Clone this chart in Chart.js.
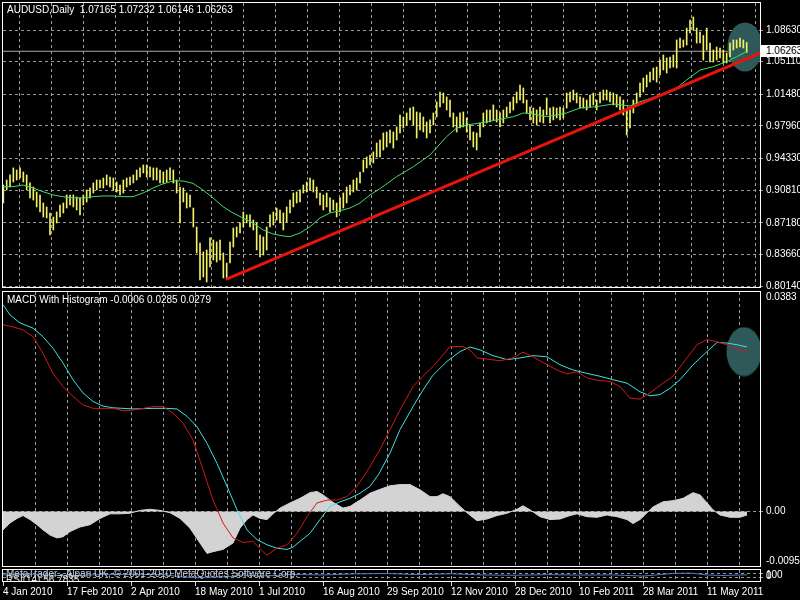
<!DOCTYPE html>
<html><head><meta charset="utf-8">
<script src="https://cdn.jsdelivr.net/npm/chart.js@4.4.1/dist/chart.umd.min.js"></script>
<style>
html,body{margin:0;padding:0;background:#000;width:800px;height:600px;overflow:hidden;position:relative}
canvas{position:absolute;left:0}
.lbl{position:absolute;font-family:'Liberation Sans',Arial,sans-serif;font-size:10px;white-space:pre;line-height:12px}
</style></head><body>
<canvas id="main" width="800" height="290" style="top:0px"></canvas>
<canvas id="macd" width="800" height="278" style="top:290px"></canvas>
<canvas id="rsi" width="800" height="32" style="top:568px"></canvas>
<div class="lbl" style="left:7px;top:4px;color:#fff">AUDUSD,Daily  1.07165 1.07232 1.06146 1.06263</div>
<div class="lbl" style="left:761px;top:45px;width:34px;height:12px;background:#fff;color:#000;padding-left:5px">1.06263</div>
<div class="lbl" style="left:7px;top:294px;color:#fff">MACD With Histogram -0.0006 0.0285 0.0279</div>
<div style="position:absolute;left:3px;top:570px;width:400px;height:11px;overflow:hidden">
  <div class="lbl" style="left:3px;top:4px;color:#e0e0e0">RSI(14) 56.7835</div>
  <div class="lbl" style="left:3px;top:-2px;color:#c4cad8">MetaTrader - Alpari UK, © 2001-2010 MetaQuotes Software Corp.</div>
</div>
<script>
// ---------------- data ----------------
const dateLabels = ['4 Jan 2010','17 Feb 2010','2 Apr 2010','18 May 2010','1 Jul 2010','16 Aug 2010','29 Sep 2010','12 Nov 2010','28 Dec 2010','10 Feb 2011','28 Mar 2011','11 May 2011'];
const priceTicks = [0.80140,0.83660,0.87180,0.90810,0.94330,0.97960,1.01480,1.05110,1.08630];
const bidPrice = 1.06263;
// bar samples: one sample every 5/3 trading days starting at day 0.17
const FIRST_BAR_DAY = 0.17, BAR_STEP_DAYS = 5/3;
const barHigh = [
0.9138,0.9194,0.9250,0.9328,0.9305,0.9328,0.9283,0.9250,0.9161,0.9116,
0.9060,0.9027,0.8938,0.8894,0.8827,0.8782,0.8838,0.8916,0.8938,0.9027,
0.9027,0.9027,0.9005,0.8994,0.9027,0.9083,0.9105,0.9161,0.9194,0.9194,
0.9216,0.9250,0.9227,0.9216,0.9172,0.9138,0.9194,0.9216,0.9227,0.9250,
0.9305,0.9328,0.9361,0.9361,0.9339,0.9328,0.9328,0.9305,0.9283,0.9305,
0.9328,0.9305,0.9194,0.9116,0.9105,0.9049,0.9027,0.8882,0.8671,0.8493,
0.8393,0.8415,0.8549,0.8526,0.8504,0.8526,0.8382,0.8270,0.8504,0.8660,
0.8671,0.8716,0.8838,0.8805,0.8805,0.8749,0.8716,0.8582,0.8560,0.8671,
0.8805,0.8838,0.8882,0.8860,0.8827,0.8894,0.8971,0.9049,0.9060,0.9083,
0.9138,0.9172,0.9216,0.9194,0.9116,0.9049,0.9027,0.9049,0.8994,0.8971,
0.8938,0.8994,0.9049,0.9116,0.9138,0.9194,0.9216,0.9283,0.9417,0.9450,0.9472,0.9506,0.9606,
0.9639,0.9717,0.9728,0.9750,0.9728,0.9784,0.9917,0.9895,0.9940,0.9995,
1.0006,0.9951,0.9940,0.9895,0.9839,0.9862,0.9940,1.0062,1.0173,1.0162,
1.0118,1.0084,0.9940,0.9895,0.9940,0.9951,0.9884,0.9806,0.9728,0.9717,
0.9828,0.9940,0.9973,0.9973,1.0029,0.9973,0.9940,0.9973,1.0006,1.0062,
1.0118,1.0173,1.0251,1.0218,1.0084,1.0006,0.9995,0.9973,1.0006,0.9973,
1.0106,0.9995,1.0006,0.9995,1.0006,0.9995,1.0162,1.0173,1.0195,1.0162,
1.0118,1.0106,1.0084,1.0140,1.0162,1.0084,1.0173,1.0195,1.0195,1.0173,
1.0162,1.0140,1.0118,1.0084,0.9973,1.0006,1.0084,1.0162,1.0273,1.0329,
1.0362,1.0396,1.0440,1.0451,1.0529,1.0585,1.0552,1.0563,1.0585,1.0752,
1.0774,1.0752,1.0885,1.0974,1.1008,1.0885,1.0841,1.0802,1.0885,1.0718,
1.0641,1.0674,1.0663,1.0641,1.0607,1.0718,1.0752,1.0752,1.0774,1.0752,1.07232];
const barLow = [
0.8938,0.9083,0.9116,0.9172,0.9194,0.9216,0.9172,0.9083,0.8994,0.8971,
0.8894,0.8838,0.8782,0.8771,0.8582,0.8638,0.8716,0.8782,0.8827,0.8882,
0.8916,0.8894,0.8860,0.8805,0.8916,0.8949,0.8994,0.9049,0.9083,0.9105,
0.9105,0.9138,0.9116,0.9083,0.9060,0.9027,0.9049,0.9116,0.9138,0.9161,
0.9194,0.9227,0.9272,0.9227,0.9227,0.9194,0.9194,0.9161,0.9161,0.9172,
0.9194,0.9161,0.9049,0.8716,0.8949,0.8882,0.8894,0.8671,0.8382,0.8081,
0.8115,0.8059,0.8226,0.8304,0.8281,0.8304,0.8104,0.8092,0.8270,0.8448,
0.8560,0.8604,0.8671,0.8716,0.8671,0.8638,0.8415,0.8337,0.8359,0.8415,
0.8671,0.8693,0.8749,0.8716,0.8638,0.8727,0.8827,0.8894,0.8938,0.8949,
0.9049,0.9060,0.9083,0.9060,0.8994,0.8916,0.8860,0.8894,0.8838,0.8860,
0.8782,0.8838,0.8882,0.8938,0.9027,0.9060,0.9083,0.9161,0.9283,0.9328,0.9361,0.9383,0.9450,
0.9450,0.9528,0.9561,0.9606,0.9550,0.9639,0.9717,0.9773,0.9806,0.9862,
0.9806,0.9661,0.9750,0.9728,0.9661,0.9717,0.9806,0.9895,1.0006,1.0051,
0.9973,0.9895,0.9784,0.9728,0.9773,0.9784,0.9728,0.9639,0.9561,0.9528,
0.9672,0.9784,0.9828,0.9839,0.9862,0.9839,0.9784,0.9828,0.9895,0.9940,
0.9973,1.0051,1.0084,1.0051,0.9940,0.9862,0.9828,0.9806,0.9839,0.9828,
0.9917,0.9828,0.9862,0.9884,0.9862,0.9884,0.9995,1.0062,1.0084,1.0051,
0.9995,0.9995,0.9973,1.0006,1.0029,0.9973,1.0051,1.0084,1.0084,1.0062,
1.0029,1.0006,0.9973,0.9917,0.9695,0.9773,0.9940,1.0029,1.0118,1.0173,
1.0229,1.0284,1.0307,1.0284,1.0362,1.0418,1.0385,1.0440,1.0451,1.0440,
1.0663,1.0674,1.0696,1.0830,1.0863,1.0718,1.0718,1.0529,1.0641,1.0507,
1.0507,1.0529,1.0552,1.0496,1.0496,1.0563,1.0641,1.0663,1.0674,1.0663,1.06146];
// moving average [day, price]
const maLine = [[0,0.9119],[5,0.9119],[10,0.9138],[15,0.9105],[20,0.9064],[25,0.9027],[30,0.9008],[35,0.8994],[40,0.8994],[45,0.9008],[50,0.9016],[55,0.9016],[60,0.9008],[65,0.9008],[70,0.9049],[75,0.9105],[80,0.9150],[85,0.9183],[90,0.9183],[95,0.9157],[100,0.9083],[105,0.8994],[110,0.8897],[115,0.8827],[120,0.8771],[125,0.8716],[130,0.8638],[135,0.8593],[140,0.8571],[143.5,0.8563],[148.5,0.8604],[153.5,0.8674],[158.5,0.8771],[163.5,0.8827],[168.5,0.8852],[173.5,0.8882],[178.5,0.8938],[183.5,0.9027],[188.3,0.9094],[196.8,0.9231],[205.2,0.9342],[213.5,0.9472],[221.8,0.9676],[226.8,0.9773],[231.8,0.9806],[238.5,0.9828],[246.8,0.9862],[255.2,0.9898],[260.2,0.9940],[265.2,0.9928],[271.8,0.9898],[276.8,0.9917],[281.8,0.9940],[288.5,0.9995],[296.8,1.0010],[305.2,1.0040],[313.5,1.0017],[318.5,1.0065],[326.8,1.0121],[335.2,1.0188],[341.8,1.0307],[348.5,1.0418],[355.2,1.0455],[361.8,1.0510],[366.8,1.0566],[371.8,1.0622]];
const trendLine = [[111.5,0.8089],[378.5,1.0607]];
const circleMarks = [[371,1.0674]];
// MACD panel
const macdTicks = [-0.0095,0,0.0383];
const macdLine = [[0,0.0326],[5,0.0322],[10,0.0317],[15,0.0305],[20,0.0276],[25,0.0241],[30,0.0218],[35,0.0201],[40,0.0186],[45,0.0180],[55,0.0180],[60,0.0176],[65,0.0177],[70,0.0180],[75,0.0183],[80,0.0183],[85,0.0172],[90,0.0154],[95,0.0125],[100,0.0073],[105,0.0020],[110,-0.0020],[115,-0.0046],[120,-0.0054],[125,-0.0052],[130,-0.0070],[132,-0.0076],[137,-0.0064],[142,-0.0058],[147,-0.0038],[152,-0.0009],[157,0.0015],[162,0.0020],[167,0.0020],[172,0.0026],[177,0.0044],[182,0.0070],[188,0.0105],[193.5,0.0143],[198.5,0.0177],[205,0.0218],[210,0.0236],[215,0.0253],[220,0.0273],[223.5,0.0288],[230,0.0288],[233.5,0.0282],[237,0.0268],[242,0.0266],[248.5,0.0263],[255,0.0268],[260,0.0278],[265,0.0270],[272,0.0256],[277,0.0247],[282,0.0240],[287,0.0244],[292,0.0233],[297,0.0229],[303.5,0.0227],[308.5,0.0218],[313.5,0.0198],[318.5,0.0196],[323.5,0.0207],[330,0.0224],[335,0.0236],[340,0.0259],[347,0.0291],[352,0.0300],[357,0.0296],[362,0.0291],[367,0.0283],[372,0.0280]];
const signalLine = [[0,0.0361],[3.5,0.0343],[8.5,0.0329],[15,0.0320],[20,0.0305],[25,0.0285],[30,0.0259],[35,0.0230],[40,0.0207],[45,0.0192],[50,0.0184],[55,0.0181],[65,0.0179],[75,0.0180],[82,0.0180],[87,0.0179],[92,0.0166],[97,0.0148],[102,0.0119],[107,0.0084],[112,0.0044],[117,0.0003],[122,-0.0032],[127,-0.0049],[132,-0.0058],[137,-0.0064],[142,-0.0066],[145,-0.0062],[148.5,-0.0052],[153.5,-0.0038],[158.5,-0.0014],[163.5,0.0009],[168.5,0.0017],[173.5,0.0023],[178.5,0.0032],[183.5,0.0044],[188,0.0066],[193.5,0.0102],[198.5,0.0143],[205,0.0183],[210,0.0212],[215,0.0238],[222,0.0262],[228.5,0.0279],[233.5,0.0287],[238.5,0.0282],[245,0.0272],[252,0.0265],[258.5,0.0268],[265,0.0272],[272,0.0270],[278.5,0.0256],[285,0.0247],[292,0.0241],[298.5,0.0236],[305,0.0230],[312,0.0224],[318.5,0.0209],[323.5,0.0202],[328.5,0.0204],[333.5,0.0215],[338.5,0.0230],[345,0.0256],[352,0.0279],[357,0.0295],[362,0.0294],[367,0.0291],[372,0.0287]];
const histogram = [[0,-0.0032],[3.5,-0.0020],[7,-0.0012],[10,-0.0007],[13.5,-0.0014],[17,-0.0023],[20,-0.0032],[23.5,-0.0041],[27,-0.0046],[30,-0.0044],[33.5,-0.0035],[38.5,-0.0027],[43.5,-0.0023],[48.5,-0.0012],[53.5,-0.0004],[58.5,-0.0004],[63.5,-0.0003],[68.5,0.0002],[73.5,0.0004],[78.5,0.0002],[83.5,-0.0002],[88.5,-0.0012],[93.5,-0.0029],[98.5,-0.0055],[102,-0.0073],[105,-0.0070],[110,-0.0066],[115,-0.0055],[118.5,-0.0029],[122,-0.0014],[125,-0.0006],[128.5,-0.0012],[132,-0.0014],[135,-0.0004],[138.5,0.0006],[143.5,0.0015],[148.5,0.0023],[153.5,0.0033],[157,0.0035],[160,0.0029],[165,0.0016],[170,0.0006],[173.5,0.0009],[178.5,0.0020],[183.5,0.0032],[188,0.0038],[193.5,0.0045],[198.5,0.0047],[203.5,0.0047],[208.5,0.0038],[213.5,0.0026],[217,0.0026],[220,0.0031],[223.5,0.0026],[228.5,0.0009],[232,-0.0002],[237,-0.0016],[242,-0.0013],[247,-0.0007],[252,-0.0003],[257,0.0004],[260,0.0010],[263.5,0.0003],[268.5,-0.0009],[273.5,-0.0014],[278.5,-0.0013],[283.5,-0.0007],[287,-0.0004],[292,-0.0009],[297,-0.0010],[302,-0.0006],[307,-0.0009],[312,-0.0014],[315,-0.0021],[318.5,-0.0014],[322,-0.0002],[325,0.0008],[330,0.0017],[335,0.0019],[340,0.0023],[345,0.0033],[348.5,0.0029],[352,0.0015],[355,0.0003],[358.5,-0.0006],[363.5,-0.0010],[368.5,-0.0010],[372,-0.0006]];
const macdCircle = [[370.5,0.0279]];
// RSI panel
const rsiTicks = [0,30,70,100];
const rsiLine = [[0,55],[16,62],[32,45],[48,58],[64,60],[80,58],[88,40],[96,30],[104,35],[112,38],[120,55],[128,45],[136,50],[144,60],[160,55],[176,65],[192,68],[208,58],[224,66],[240,55],[256,52],[272,58],[288,54],[304,56],[320,45],[336,70],[344,72],[352,55],[360,50],[372,56.78]];

// ---------------- helpers ----------------
const X_MIN = 0, X_MAX = 378.5;
const gridDays = []; for (let d = 16; d <= 368; d += 16) gridDays.push(d);
const GRID = '#9a9a9a';
Chart.defaults.font.family = "'Liberation Sans', Arial, sans-serif";
Chart.defaults.font.size = 10;
Chart.defaults.color = '#ffffff';
const pts = a => a.map(p => ({x:p[0], y:p[1]}));

function ellipseImg(rx, ry, color){
  const c = document.createElement('canvas'); c.width = rx*2; c.height = ry*2;
  const g = c.getContext('2d'); g.fillStyle = color;
  g.beginPath(); g.ellipse(rx, ry, rx-0.5, ry-0.5, 0, 0, Math.PI*2); g.fill();
  return c;
}
const ell = ellipseImg(18, 25, '#2f5858');

const frame = {id:'frame', afterDraw(chart){
  const a = chart.chartArea, c = chart.ctx;
  c.save(); c.strokeStyle = '#ffffff'; c.lineWidth = 1;
  c.strokeRect(Math.round(a.left)-0.5, Math.round(a.top)-0.5, Math.round(a.right-a.left)+1, Math.round(a.bottom-a.top)+1);
  c.restore();
}};
function edgeLabels(topLabel, bottomLabel){
  return {id:'edge', beforeDraw(chart){
    const s = chart.scales.y;
    s.getLabelItems(chart.chartArea).forEach(it => {
      if (it.label === topLabel) it.options.textBaseline = 'top';
      if (it.label === bottomLabel) it.options.textBaseline = 'bottom';
    });
  }};
}
function xAxis(showLabels){
  return {
    type:'linear', min:X_MIN, max:X_MAX, offset:false,
    afterBuildTicks: s => { s.ticks = (showLabels ? [0].concat(gridDays) : gridDays).map(v => ({value:v})); },
    afterFit: s => { s.height = showLabels ? 19 : 0; s.paddingLeft = 0; s.paddingRight = 0; },
    border:{display:false, dash:[3,3]},
    grid:{color: c => (c.tick && c.tick.value === 0) ? 'transparent' : GRID, lineWidth:1,
          drawTicks: showLabels, tickLength:5, tickBorderDash:[],
          tickColor: c => (c.tick && c.tick.value % 32 === 0) ? '#d0d0d0' : 'transparent'},
    ticks:{display: showLabels, autoSkip:false, maxRotation:0, minRotation:0, align:'start', padding:0, color:'#fff',
           callback: v => (v % 32 === 0) ? dateLabels[v/32] : ''}
  };
}
function yAxis(min, max, ticks, fmt, gridFor){
  return {
    type:'linear', position:'right', min:min, max:max,
    afterBuildTicks: s => { s.ticks = ticks.map(v => ({value:v})); },
    afterFit: s => { s.width = 40; s.paddingTop = 0; s.paddingBottom = 0; },
    border:{display:false, dash:[3,3]},
    grid:{color: c => gridFor(c.tick ? c.tick.value : null) ? GRID : 'transparent', lineWidth:1,
          drawTicks:true, tickLength:3, tickBorderDash:[],
          tickColor: c => gridFor(c.tick ? c.tick.value : null) ? GRID : 'transparent'},
    ticks:{autoSkip:false, padding:3, color:'#fff', callback: fmt}
  };
}
const common = {responsive:false, maintainAspectRatio:false, animation:false, events:[],
  plugins:{legend:{display:false}, tooltip:{enabled:false}, title:{display:false}}};

// ---------------- main price chart ----------------
const barData = barHigh.map((h, k) => ({x: FIRST_BAR_DAY + k*BAR_STEP_DAYS, y:[barLow[k], h]}));
new Chart(document.getElementById('main'), {
  type:'bar',
  data:{datasets:[
    {type:'line', data:pts(trendLine), borderColor:'#e8140c', borderWidth:3, pointRadius:0, order:0},
    {type:'line', data:pts(maLine), borderColor:'#3fdc6a', borderWidth:1, pointRadius:0, order:1},
    {type:'bar', data:barData, backgroundColor:'#f2f266', barThickness:1, borderWidth:0, grouped:false, order:2},
    {type:'line', data:pts(circleMarks), showLine:false, pointStyle:ell, pointRadius:20, clip:0, order:3},
    {type:'line', data:[{x:X_MIN,y:bidPrice},{x:X_MAX,y:bidPrice}], borderColor:'#a8a8a8', borderWidth:1, pointRadius:0, order:4}
  ]},
  options:Object.assign({}, common, {
    layout:{autoPadding:false, padding:{left:3, top:3, bottom:3, right:0}},
    scales:{
      x: xAxis(false),
      y: yAxis(0.8003, 1.11635, priceTicks, v => v.toFixed(5), v => v !== null)
    }
  }),
  plugins:[frame]
});

// ---------------- MACD chart ----------------
new Chart(document.getElementById('macd'), {
  type:'line',
  data:{datasets:[
    {data:pts(macdLine), borderColor:'#d01818', borderWidth:1, pointRadius:0, order:0},
    {data:pts(signalLine), borderColor:'#3fe0e0', borderWidth:1, pointRadius:0, order:1},
    {data:pts(macdCircle), showLine:false, pointStyle:ell, pointRadius:20, clip:0, order:2},
    {data:pts(histogram), borderColor:'#d3d3d3', borderWidth:1, backgroundColor:'#d3d3d3', fill:'origin', pointRadius:0, order:3}
  ]},
  options:Object.assign({}, common, {
    layout:{autoPadding:false, padding:{left:3, top:2, bottom:2, right:0}},
    scales:{
      x: xAxis(false),
      y: yAxis(-0.0095, 0.0383, macdTicks, v => v === 0 ? '0.00' : v.toFixed(4), v => v === 0)
    }
  }),
  plugins:[frame, edgeLabels('0.0383','-0.0095')]
});

// ---------------- RSI strip + date axis ----------------
new Chart(document.getElementById('rsi'), {
  type:'line',
  data:{datasets:[
    {data:pts(rsiLine), borderColor:'#4a7fc4', borderWidth:1, pointRadius:0}
  ]},
  options:Object.assign({}, common, {
    layout:{autoPadding:false, padding:{left:3, top:2, bottom:0, right:0}},
    scales:{
      x: xAxis(true),
      y: yAxis(0, 100, rsiTicks, v => (v === 0 || v === 100) ? String(v) : '', v => v === 30 || v === 70)
    }
  }),
  plugins:[frame, edgeLabels('100','0')]
});
</script>
</body></html>
